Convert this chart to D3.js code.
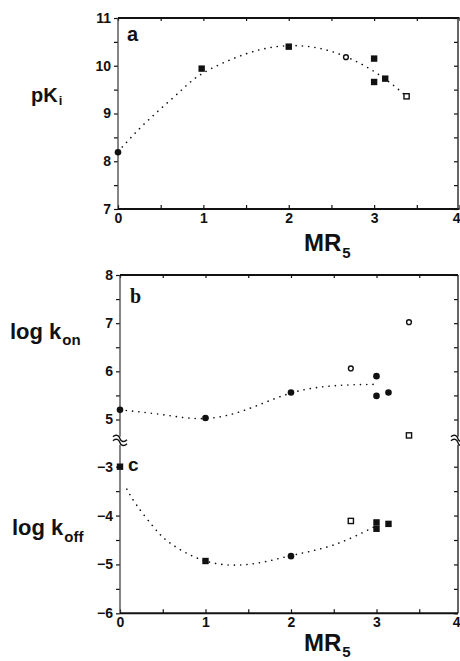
<!DOCTYPE html>
<html>
<head>
<meta charset="utf-8">
<script src="https://cdn.jsdelivr.net/npm/d3@7"></script>
<style>
  body { margin: 0; background: #fff; }
  svg { display: block; }
  text { font-family: "Liberation Sans", Arial, sans-serif; fill: #111; }
  .tick text { font-size: 14px; font-weight: bold; }
</style>
</head>
<body>
<div id="chart"></div>
<script>
/**
 * DATA
 * */
// panel a : pKi vs MR5
const mr5A = [0, 0.98, 2.0, 2.67, 3.0, 3.0, 3.13, 3.38];
const pKi  = [8.19, 9.94, 10.40, 10.18, 10.15, 9.66, 9.73, 9.36];
const symA = ["fc", "fs", "fs", "oc", "fs", "fs", "fs", "os"];
const fitAx = [0, 0.25, 0.5, 0.75, 1, 1.5, 2, 2.5, 3, 3.38];
const fitAy = [8.2, 8.68, 9.1, 9.5, 9.85, 10.25, 10.42, 10.3, 9.88, 9.36];

// panel b : log kon vs MR5
const mr5B   = [0, 1.0, 2.0, 2.7, 3.0, 3.0, 3.14, 3.38, 3.38];
const logKon = [5.2, 5.03, 5.56, 6.06, 5.90, 5.49, 5.56, 7.02, 4.67];
const symB   = ["fc", "fc", "fc", "oc", "fc", "fc", "fc", "oc", "os"];
const fitBx = [0, 0.5, 1, 1.5, 2, 2.5, 3.0];
const fitBy = [5.2, 5.1, 5.02, 5.22, 5.55, 5.7, 5.73];

// panel c : log koff vs MR5
const mr5C    = [0, 1.0, 2.0, 2.7, 3.0, 3.0, 3.14];
const logKoff = [-3.0, -4.93, -4.83, -4.11, -4.14, -4.27, -4.17];
const symC    = ["fs", "fs", "fc", "os", "fs", "fs", "fs"];
const fitCx = [0.08, 0.2, 0.4, 0.6, 1, 1.5, 2, 2.5, 3.0];
const fitCy = [-3.46, -3.8, -4.25, -4.58, -4.93, -5.0, -4.82, -4.6, -4.21];

const xTicks = [0, 1, 2, 3, 4];
const yTicksA = [7, 8, 9, 10, 11];
const yTicksOn = [5, 6, 7, 8];
const yTicksOff = [-6, -5, -4, -3];

/**
 * CONSTANTS
 * */
const width = 460, height = 661;

const svg = d3.select("#chart").append("svg")
  .attr("width", width)
  .attr("height", height);

// scales
const xA = d3.scaleLinear().domain([0, 4]).range([118, 459.5]);
const yA = d3.scaleLinear().domain([7, 11]).range([209, 18]);
const xB = d3.scaleLinear().domain([0, 4]).range([120, 462]);
const yOn = d3.scaleLinear().domain([5, 8]).range([419.5, 275]);
const yOff = d3.scaleLinear().domain([-6, -3]).range([613.3, 466.7]);

const breakY = yOn(4.56);

const half = d => d3.range(d[0], d[1] + 0.001, 0.5);

function styleAxis(g, w) {
  g.select(".domain").remove();
  g.selectAll(".tick line").attr("stroke", "#111").attr("stroke-width", w || 1.2);
}

// the last x label sits on the page edge: keep it inside
function lastInside(g) {
  g.selectAll(".tick text").filter(d => d === 4)
    .attr("text-anchor", "end").attr("x", width - g.datum().shift);
}

function xLabels(scale, y) {
  const g = svg.append("g").attr("transform", `translate(0,${y})`)
    .call(d3.axisBottom(scale).tickValues(xTicks).tickSize(0).tickPadding(3).tickFormat(d3.format("d")))
    .call(styleAxis);
  g.selectAll(".tick").filter(d => d === 4).select("text")
    .attr("text-anchor", "end")
    .attr("x", function () { return width - scale(4); });
}

/**
 * PANEL A
 * */
svg.append("g").attr("transform", `translate(${xA(0)},0)`)
  .call(d3.axisLeft(yA).tickValues(half([7, 11])).tickSize(4).tickFormat(""))
  .call(styleAxis);
svg.append("g").attr("transform", `translate(${xA(0) - 5},0)`)
  .call(d3.axisLeft(yA).tickValues(yTicksA).tickSize(0).tickPadding(2).tickFormat(d3.format("d")))
  .call(styleAxis);
svg.append("g").attr("transform", `translate(0,${yA(7)})`)
  .call(d3.axisBottom(xA).tickValues(half([0, 4])).tickSize(-4).tickFormat(""))
  .call(styleAxis);
xLabels(xA, yA(7) + 1);
svg.append("g").attr("transform", `translate(0,${yA(11)})`)
  .call(d3.axisTop(xA).tickValues(half([0, 4])).tickSize(-3).tickFormat(""))
  .call(styleAxis);
svg.append("g").attr("transform", `translate(${xA(4) - 1.5},0)`)
  .call(d3.axisRight(yA).tickValues(half([7, 11])).tickSize(-4).tickFormat(""))
  .call(styleAxis);

// frame
svg.append("line").attr("x1", xA(0)).attr("x2", xA(0)).attr("y1", yA(11)).attr("y2", yA(7))
  .attr("stroke", "#444").attr("stroke-width", 1.3);
svg.append("line").attr("x1", xA(0)).attr("x2", xA(4)).attr("y1", yA(7)).attr("y2", yA(7))
  .attr("stroke", "#111").attr("stroke-width", 2);
svg.append("line").attr("x1", xA(0)).attr("x2", xA(4)).attr("y1", yA(11)).attr("y2", yA(11))
  .attr("stroke", "#111").attr("stroke-width", 1.8);
svg.append("line").attr("x1", xA(4) - 1.5).attr("x2", xA(4) - 1.5).attr("y1", yA(11)).attr("y2", yA(7))
  .attr("stroke", "#333").attr("stroke-width", 1.5);

/**
 * PANEL B / C
 * */
svg.append("g").attr("transform", `translate(${xB(0)},0)`)
  .call(d3.axisLeft(yOn).tickValues(half([5, 8])).tickSize(4).tickFormat(""))
  .call(styleAxis);
svg.append("g").attr("transform", `translate(${xB(0) - 5},0)`)
  .call(d3.axisLeft(yOn).tickValues(yTicksOn).tickSize(0).tickPadding(2).tickFormat(d3.format("d")))
  .call(styleAxis);
svg.append("g").attr("transform", `translate(${xB(0)},0)`)
  .call(d3.axisLeft(yOff).tickValues(half([-6, -3])).tickSize(4).tickFormat(""))
  .call(styleAxis);
svg.append("g").attr("transform", `translate(${xB(0) - 5},0)`)
  .call(d3.axisLeft(yOff).tickValues(yTicksOff).tickSize(0).tickPadding(2).tickFormat(d3.format("d")))
  .call(styleAxis);
svg.append("g").attr("transform", `translate(0,${yOff(-6)})`)
  .call(d3.axisBottom(xB).tickValues(half([0, 4])).tickSize(-4).tickFormat(""))
  .call(styleAxis);
xLabels(xB, yOff(-6) + 1);
svg.append("g").attr("transform", `translate(0,${yOn(8)})`)
  .call(d3.axisTop(xB).tickValues(half([0, 4])).tickSize(-3).tickFormat(""))
  .call(styleAxis);
const rightX = xB(4) - 4;
svg.append("g").attr("transform", `translate(${rightX},0)`)
  .call(d3.axisRight(yOn).tickValues(half([5, 8])).tickSize(-4).tickFormat(""))
  .call(styleAxis);
svg.append("g").attr("transform", `translate(${rightX},0)`)
  .call(d3.axisRight(yOff).tickValues(half([-6, -3])).tickSize(-4).tickFormat(""))
  .call(styleAxis);

// frame with breaks
[[xB(0), "#444", 1.3], [rightX, "#333", 1.5]].forEach(([x, c, w]) => {
  svg.append("line").attr("x1", x).attr("x2", x).attr("y1", yOn(8)).attr("y2", breakY - 4)
    .attr("stroke", c).attr("stroke-width", w);
  svg.append("line").attr("x1", x).attr("x2", x).attr("y1", breakY + 4).attr("y2", yOff(-6))
    .attr("stroke", c).attr("stroke-width", w);
  // double wavy break mark
  [-2, 2].forEach(dy => {
    const y0 = breakY + dy;
    svg.append("path")
      .attr("d", `M${x - 7},${y0 - 2} C${x - 4},${y0 - 5} ${x - 1},${y0 - 3} ${x},${y0} S${x + 4},${y0 + 4} ${x + 7},${y0 + 1}`)
      .attr("fill", "none").attr("stroke", "#111").attr("stroke-width", 1.4);
  });
});
svg.append("line").attr("x1", xB(0)).attr("x2", rightX).attr("y1", yOff(-6)).attr("y2", yOff(-6))
  .attr("stroke", "#111").attr("stroke-width", 2);
svg.append("line").attr("x1", xB(0)).attr("x2", rightX).attr("y1", yOn(8)).attr("y2", yOn(8))
  .attr("stroke", "#111").attr("stroke-width", 1.8);

/**
 * FIT CURVES
 * */
function dotted(xs, ys, xs_, ys_) {
  const line = d3.line().x(d => xs_(d[0])).y(d => ys_(d[1])).curve(d3.curveNatural);
  svg.append("path")
    .attr("d", line(d3.zip(xs, ys)))
    .attr("fill", "none")
    .attr("stroke", "#111")
    .attr("stroke-width", 1.6)
    .attr("stroke-linecap", "round")
    .attr("stroke-dasharray", "0.1 6.2");
}
dotted(fitAx, fitAy, xA, yA);
dotted(fitBx, fitBy, xB, yOn);
dotted(fitCx, fitCy, xB, yOff);

/**
 * MARKERS
 * */
function markers(xs, ys, syms, xs_, ys_) {
  const g = svg.append("g");
  d3.zip(xs, ys, syms).forEach(([x, y, s]) => {
    const cx = xs_(x), cy = ys_(y);
    if (s === "fc") {
      g.append("circle").attr("cx", cx).attr("cy", cy).attr("r", 3.3).attr("fill", "#111");
    } else if (s === "oc") {
      g.append("circle").attr("cx", cx).attr("cy", cy).attr("r", 2.4)
        .attr("fill", "#fff").attr("stroke", "#111").attr("stroke-width", 1.4);
    } else if (s === "fs") {
      g.append("rect").attr("x", cx - 3.2).attr("y", cy - 3.2).attr("width", 6.4).attr("height", 6.4)
        .attr("fill", "#111");
    } else {
      g.append("rect").attr("x", cx - 2.6).attr("y", cy - 2.6).attr("width", 5.2).attr("height", 5.2)
        .attr("fill", "#fff").attr("stroke", "#111").attr("stroke-width", 1.4);
    }
  });
}
markers(mr5A, pKi, symA, xA, yA);
markers(mr5B, logKon, symB, xB, yOn);
markers(mr5C, logKoff, symC, xB, yOff);

/**
 * LABELS
 * */
function subLabel(x, y, main, sub, size, subSize, dy) {
  const t = svg.append("text").attr("x", x).attr("y", y)
    .style("font-size", size + "px").style("font-weight", "bold");
  t.append("tspan").text(main);
  t.append("tspan").attr("dy", dy).attr("dx", 1).style("font-size", subSize + "px").text(sub);
}
subLabel(31, 102, "pK", "i", 20, 13, 3);
subLabel(304, 251, "MR", "5", 24, 15, 7);
subLabel(10, 339, "log k", "on", 22, 15, 6);
subLabel(12, 535, "log k", "off", 22, 15, 7);
subLabel(304, 651, "MR", "5", 24, 15, 6);

svg.append("text").attr("x", 127).attr("y", 41).text("a")
  .style("font-size", "20px").style("font-weight", "bold");
svg.append("text").attr("x", 130).attr("y", 303).text("b")
  .style("font-family", "'Liberation Serif', serif")
  .style("font-size", "20px").style("font-weight", "bold");
svg.append("text").attr("x", 128).attr("y", 471).text("c")
  .style("font-size", "19px").style("font-weight", "bold");
</script>
</body>
</html>
